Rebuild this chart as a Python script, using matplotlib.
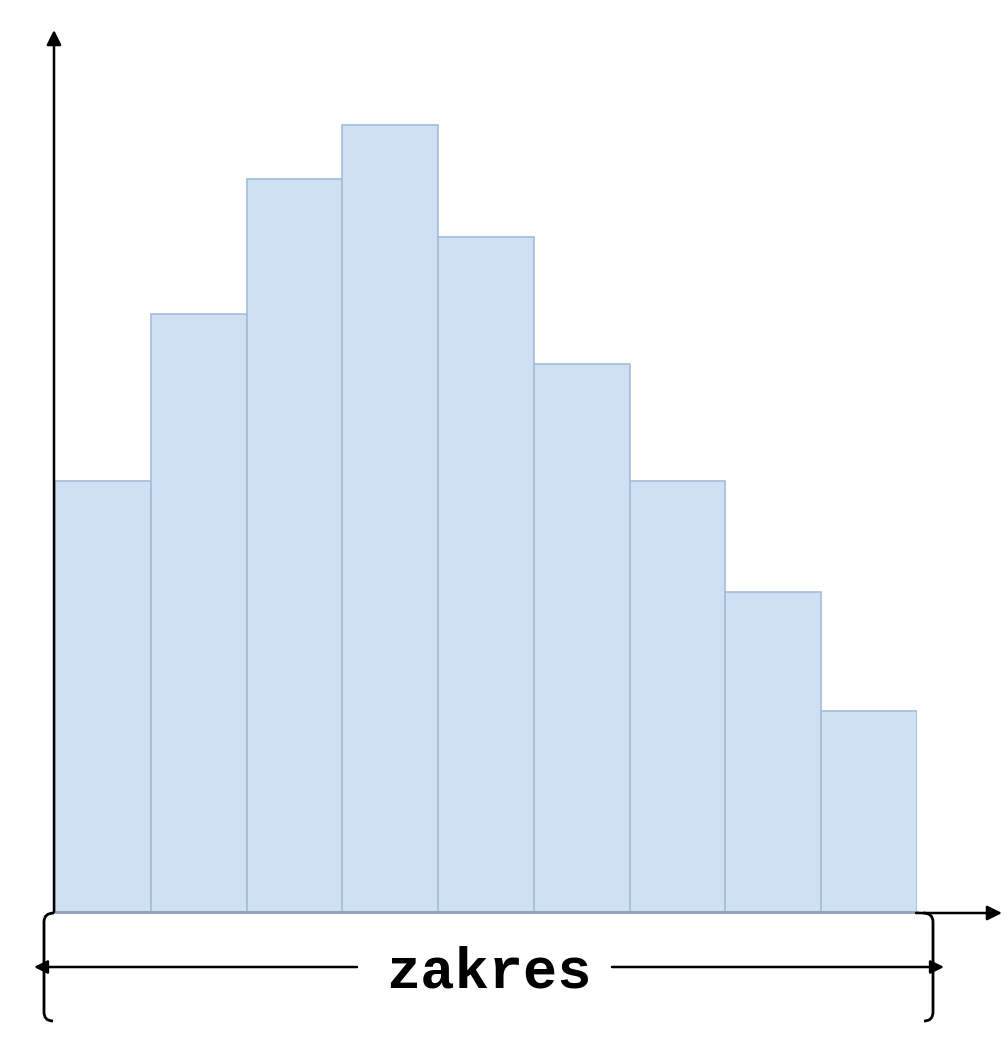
import matplotlib
matplotlib.use("Agg")
import matplotlib.pyplot as plt
import numpy as np
from matplotlib.path import Path
from matplotlib.patches import PathPatch

# dane histogramu (9 przedziałów)
bins = np.arange(10)                     # krawędzie przedziałów 0..9
counts = [43.1, 59.8, 73.3, 78.7, 67.5, 54.8, 43.1, 32.0, 20.1]
label = "zakres"

W, H = 1008, 1048
fig = plt.figure(figsize=(W / 100, H / 100), dpi=100)

# osie z histogramem - w pikselach: x 55..917, y (od góry) 912..0
ax = fig.add_axes([55 / W, (H - 912) / H, (917 - 55) / W, 912 / H])
ax.bar(bins[:-1], counts, width=1, align="edge",
       color="#cfe0f3", edgecolor="#a3bcd9", linewidth=1.2)
ax.axhline(0, color="#8ea3bd", lw=2, clip_on=False)
ax.set_xlim(0, 9)
ax.set_ylim(0, 91.2)
ax.axis("off")

# warstwa na strzałki i klamry (współrzędne pikselowe, y w dół)
ov = fig.add_axes([0, 0, 1, 1], facecolor="none")
ov.set_xlim(0, W)
ov.set_ylim(H, 0)
ov.axis("off")

arr = dict(arrowstyle="-|>", color="black", lw=1.8, mutation_scale=22,
           shrinkA=0, shrinkB=0)
# oś pionowa
ov.annotate("", xy=(54, 30), xytext=(54, 912), arrowprops=arr)
# oś pozioma (tylko za histogramem)
ov.annotate("", xy=(1002, 913), xytext=(916, 913), arrowprops=arr)

# klamry
def bracket(x, sgn):
    # sgn = +1 - klamra lewa (zagięcia w prawo), -1 - prawa
    verts = [(x + sgn * 10, 913), (x, 913), (x, 922),
             (x, 1012),
             (x, 1021), (x + sgn * 9, 1021)]
    codes = [Path.MOVETO, Path.CURVE3, Path.CURVE3,
             Path.LINETO,
             Path.CURVE3, Path.CURVE3]
    ov.add_patch(PathPatch(Path(verts, codes), fill=False, lw=2, color="black"))

bracket(44, 1)
bracket(933, -1)

# strzałka podwójna z napisem
arr2 = dict(arrowstyle="-|>", color="black", lw=1.8, mutation_scale=20,
            shrinkA=0, shrinkB=0)
ov.annotate("", xy=(34, 967), xytext=(357, 967), arrowprops=arr2)
ov.annotate("", xy=(944, 967), xytext=(612, 967), arrowprops=arr2)
ov.text(489, 972, label, ha="center", va="center", fontsize=41,
        fontweight="bold", family="Liberation Mono")

fig.savefig("out.png", dpi=100)
